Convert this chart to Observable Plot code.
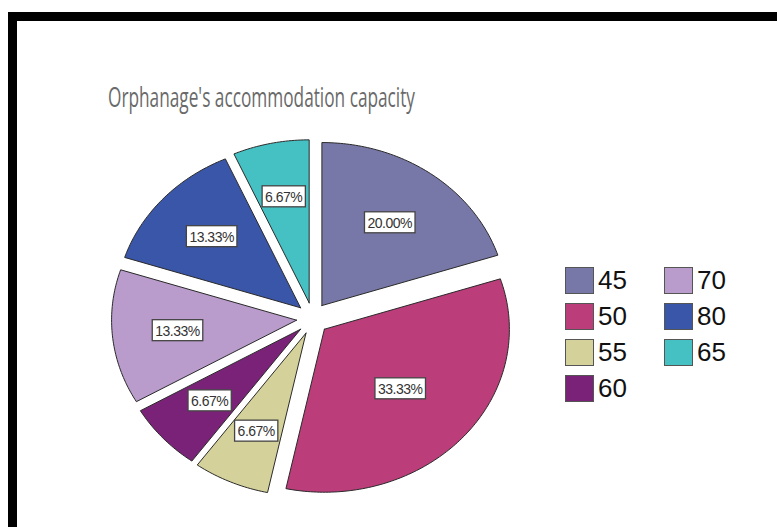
<!DOCTYPE html>
<html><head><meta charset="utf-8">
<script src="https://cdn.jsdelivr.net/npm/d3@7"></script>
<script src="https://cdn.jsdelivr.net/npm/@observablehq/plot@0.6"></script>
<style>
html,body{margin:0;padding:0;background:#fff;}
#wrap{position:relative;width:777px;height:527px;overflow:hidden;background:#fff;}
#chart{position:absolute;left:0;top:0;}
#frame{position:absolute;left:8px;top:12px;width:800px;height:560px;border-left:9px solid #000;border-top:9px solid #000;box-sizing:border-box;}
#title{position:absolute;left:108px;top:78px;font-family:"Open Sans",sans-serif;font-size:27px;color:#6a6a6a;white-space:nowrap;transform-origin:left top;}
#legend{position:absolute;left:565px;top:267px;display:grid;grid-auto-flow:column;grid-template-rows:repeat(4,36px);grid-template-columns:99px 99px;font-family:"Liberation Sans",Arial,sans-serif;font-size:26px;color:#111;}
.item{display:flex;align-items:center;height:27px;}
.sw{width:29px;height:27px;box-sizing:border-box;border:1.5px solid #555;margin-right:4px;}
</style>
</head><body>
<div id="wrap">
  <div id="chart"></div>
  <div id="frame"></div>
  <div id="title">Orphanage's accommodation capacity</div>
  <div id="legend"></div>
</div>
<script>
// ---- data ----
const categories = ["45", "50", "55", "60", "70", "80", "65"];
const counts = [3, 5, 1, 1, 2, 2, 1];
const colors = ["#7878a8", "#bb3d7a", "#d4d29a", "#7a2278", "#b99ccb", "#3a56a8", "#45c1c3"];
const title = "Orphanage's accommodation capacity";

// ---- layout constants (pixels) ----
const W = 777, H = 527;
const cx = 312, cy = 318, rx = 185, ry = 163, explode = 16;

const total = d3.sum(counts);
const arcs = d3.pie().sort(null).value(d => d)(counts);

const polys = [];
const labels = [];
arcs.forEach((a, i) => {
  const mid = (a.startAngle + a.endAngle) / 2;
  const ox = explode * Math.sin(mid) / rx;
  const oy = explode * Math.cos(mid) / ry;
  const cat = categories[i];
  polys.push({cat, x: ox, y: oy});
  const n = Math.max(8, Math.ceil((a.endAngle - a.startAngle) * 60));
  for (let k = 0; k <= n; k++) {
    const t = a.startAngle + (a.endAngle - a.startAngle) * k / n;
    polys.push({cat, x: ox + Math.sin(t), y: oy + Math.cos(t)});
  }
  polys.push({cat, x: ox, y: oy});
  const half = (a.endAngle - a.startAngle) / 2;
  const d = (2 / 3) * Math.sin(half) / half;
  labels.push({
    cat,
    x: ox + d * Math.sin(mid),
    y: oy + d * Math.cos(mid),
    text: (counts[i] / total * 100).toFixed(2) + "%"
  });
});

const plot = Plot.plot({
  width: W, height: H,
  margin: 0,
  x: {domain: [-cx / rx, (W - cx) / rx], axis: null},
  y: {domain: [-(H - cy) / ry, cy / ry], axis: null},
  color: {domain: categories, range: colors},
  style: {background: "transparent"},
  marks: [
    Plot.line(polys, {x: "x", y: "y", z: "cat", fill: "cat", stroke: "#2a2a2a", strokeWidth: 1, curve: "linear", strokeLinejoin: "miter"}),
    Plot.text(labels, {x: "x", y: "y", text: "text", fill: "#333", fontSize: 14, fontFamily: "Liberation Sans, Arial, sans-serif"})
  ]
});
document.getElementById("chart").appendChild(plot);

// white boxes behind percentage labels
plot.querySelectorAll('g[aria-label="text"] text').forEach(t => {
  t.setAttribute("letter-spacing", "-0.5");
  const b = t.getBBox();
  const r = document.createElementNS("http://www.w3.org/2000/svg", "rect");
  r.setAttribute("x", b.x - 3);
  r.setAttribute("y", b.y - 3);
  r.setAttribute("width", b.width + 6);
  r.setAttribute("height", b.height + 5);
  r.setAttribute("fill", "#fff");
  r.setAttribute("stroke", "#444");
  r.setAttribute("stroke-width", "1.3");
  const tr = t.getAttribute("transform");
  if (tr) r.setAttribute("transform", tr);
  t.parentNode.insertBefore(r, t);
});

// legend
const leg = document.getElementById("legend");
categories.forEach((c, i) => {
  const it = document.createElement("div");
  it.className = "item";
  const sw = document.createElement("div");
  sw.className = "sw";
  sw.style.background = colors[i];
  const tx = document.createElement("span");
  tx.textContent = c;
  it.appendChild(sw); it.appendChild(tx);
  leg.appendChild(it);
});

// title width fit
const ti = document.getElementById("title");
ti.textContent = title;
const w = ti.getBoundingClientRect().width;
ti.style.transform = `scaleX(${307 / w})`;
</script>
</body></html>
